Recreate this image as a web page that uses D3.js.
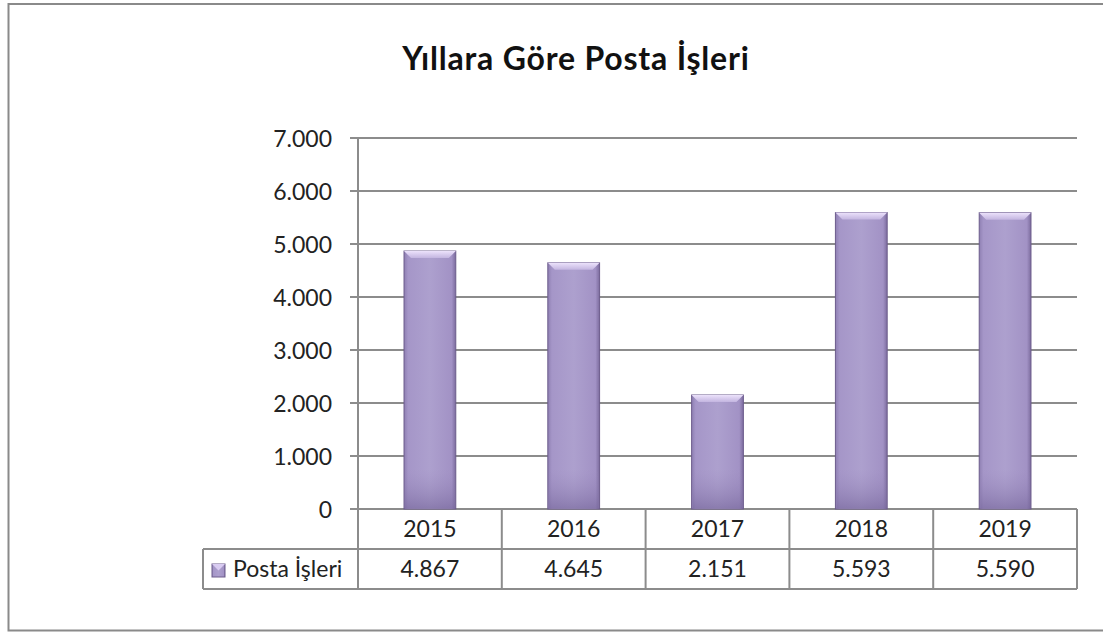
<!DOCTYPE html>
<html>
<head>
<meta charset="utf-8">
<script src="https://cdn.jsdelivr.net/npm/d3@7"></script>
<style>
  body { margin: 0; background: #fff; }
  svg { display: block; font-family: Lato, "Open Sans", sans-serif; }
</style>
</head>
<body>
<svg id="chart" width="1103" height="633"></svg>
<script>
// data
var years = ["2015", "2016", "2017", "2018", "2019"];
var postaIsleri = [4867, 4645, 2151, 5593, 5590];
var seriesName = "Posta İşleri";
var yTicks = [0, 1000, 2000, 3000, 4000, 5000, 6000, 7000];
var title = "Yıllara Göre Posta İşleri";

var trLocale = d3.formatLocale({ decimal: ",", thousands: ".", grouping: [3], currency: ["", "₺"] });
var fmt = trLocale.format(",d");

var svg = d3.select("#chart");
var plot = { left: 358, right: 1077, top: 138, bottom: 509 };
var rowH = 40;
var gridColor = "#8c8c8c";
var fs = 23;

// outer frame (right side runs off the picture)
svg.append("path")
  .attr("d", "M1110,4 H8.5 V630.5 H1110")
  .attr("fill", "none").attr("stroke", "#8a8a8a").attr("stroke-width", 2);

svg.append("text")
  .attr("x", 576).attr("y", 70)
  .attr("text-anchor", "middle")
  .attr("font-size", 32).attr("font-weight", "bold")
  .attr("letter-spacing", 0.8)
  .attr("fill", "#111")
  .text(title);

var x = d3.scaleBand().domain(years).range([plot.left, plot.right]).padding(0);
var y = d3.scaleLinear().domain([0, 7000]).range([plot.bottom, plot.top]);

// gridlines + ticks
svg.append("g").selectAll("line").data(yTicks).join("line")
  .attr("x1", plot.left - 8).attr("x2", plot.right)
  .attr("y1", function(d) { return y(d); }).attr("y2", function(d) { return y(d); })
  .attr("stroke", gridColor).attr("stroke-width", 2);

svg.append("g").selectAll("text").data(yTicks).join("text")
  .attr("x", plot.left - 26)
  .attr("y", function(d) { return y(d) + 8.5; })
  .attr("text-anchor", "end")
  .attr("font-size", fs).attr("fill", "#222")
  .text(function(d) { return fmt(d); });

// y axis line continues down through the table
svg.append("line")
  .attr("x1", plot.left).attr("x2", plot.left)
  .attr("y1", plot.top).attr("y2", plot.bottom + 2 * rowH)
  .attr("stroke", gridColor).attr("stroke-width", 2);

// bar gradients
var defs = svg.append("defs");
var g1 = defs.append("linearGradient").attr("id", "barGrad").attr("x1", 0).attr("x2", 1).attr("y1", 0).attr("y2", 0);
g1.append("stop").attr("offset", "0").attr("stop-color", "#8e7fb2");
g1.append("stop").attr("offset", "0.08").attr("stop-color", "#a596c8");
g1.append("stop").attr("offset", "0.5").attr("stop-color", "#ada0ce");
g1.append("stop").attr("offset", "0.92").attr("stop-color", "#a292c5");
g1.append("stop").attr("offset", "1").attr("stop-color", "#7c6c9e");
var g2 = defs.append("linearGradient").attr("id", "topGrad").attr("x1", 0).attr("x2", 0).attr("y1", 0).attr("y2", 1);
g2.append("stop").attr("offset", "0").attr("stop-color", "#ece2fb");
g2.append("stop").attr("offset", "1").attr("stop-color", "#c3b5e0");
var g3 = defs.append("linearGradient").attr("id", "botGrad").attr("x1", 0).attr("x2", 0).attr("y1", 0).attr("y2", 1);
g3.append("stop").attr("offset", "0").attr("stop-color", "#9a8abd").attr("stop-opacity", 0);
g3.append("stop").attr("offset", "1").attr("stop-color", "#75659a");

var barW = x.bandwidth() * 0.36;
var bars = svg.append("g").selectAll("g").data(postaIsleri).join("g");

bars.append("rect")
  .attr("x", function(d, i) { return x(years[i]) + (x.bandwidth() - barW) / 2; })
  .attr("y", function(d) { return y(d); })
  .attr("width", barW)
  .attr("height", function(d) { return y(0) - y(d); })
  .attr("fill", "url(#barGrad)")
  .attr("stroke", "#6c5c8c").attr("stroke-width", 1);

// top bevel
bars.append("path")
  .attr("d", function(d, i) {
    var x0 = x(years[i]) + (x.bandwidth() - barW) / 2, x1 = x0 + barW, t = y(d), b = 7;
    return "M" + x0 + "," + t + "H" + x1 + "L" + (x1 - b) + "," + (t + b) + "H" + (x0 + b) + "Z";
  })
  .attr("fill", "url(#topGrad)");

// soft shading near the base
bars.append("rect")
  .attr("x", function(d, i) { return x(years[i]) + (x.bandwidth() - barW) / 2 + 1; })
  .attr("y", y(0) - 40)
  .attr("width", barW - 2).attr("height", 39)
  .attr("fill", "url(#botGrad)").attr("opacity", 0.6);

// data table
var table = svg.append("g");
table.append("line")
  .attr("x1", plot.right).attr("x2", plot.right)
  .attr("y1", plot.bottom).attr("y2", plot.bottom + 2 * rowH)
  .attr("stroke", gridColor).attr("stroke-width", 2);
table.selectAll("line.col").data(years.slice(1)).join("line")
  .attr("class", "col")
  .attr("x1", function(d) { return x(d); }).attr("x2", function(d) { return x(d); })
  .attr("y1", plot.bottom).attr("y2", plot.bottom + 2 * rowH)
  .attr("stroke", gridColor).attr("stroke-width", 2);
table.append("line")
  .attr("x1", 203).attr("x2", plot.right)
  .attr("y1", plot.bottom + rowH).attr("y2", plot.bottom + rowH)
  .attr("stroke", gridColor).attr("stroke-width", 2);
table.append("line")
  .attr("x1", 203).attr("x2", plot.right)
  .attr("y1", plot.bottom + 2 * rowH).attr("y2", plot.bottom + 2 * rowH)
  .attr("stroke", gridColor).attr("stroke-width", 2);
table.append("line")
  .attr("x1", 203).attr("x2", 203)
  .attr("y1", plot.bottom + rowH).attr("y2", plot.bottom + 2 * rowH)
  .attr("stroke", gridColor).attr("stroke-width", 2);

table.selectAll("text.yr").data(years).join("text")
  .attr("class", "yr")
  .attr("x", function(d) { return x(d) + x.bandwidth() / 2; })
  .attr("y", plot.bottom + 28)
  .attr("text-anchor", "middle").attr("font-size", fs).attr("fill", "#222")
  .text(function(d) { return d; });

table.selectAll("text.val").data(postaIsleri).join("text")
  .attr("class", "val")
  .attr("x", function(d, i) { return x(years[i]) + x.bandwidth() / 2; })
  .attr("y", plot.bottom + rowH + 28)
  .attr("text-anchor", "middle").attr("font-size", fs).attr("fill", "#222")
  .text(function(d) { return fmt(d); });

// legend key
table.append("rect")
  .attr("x", 212).attr("y", plot.bottom + rowH + 15)
  .attr("width", 13).attr("height", 13)
  .attr("fill", "url(#barGrad)").attr("stroke", "#6c5c8c").attr("stroke-width", 1);
table.append("path")
  .attr("d", "M212," + (plot.bottom + rowH + 15) + "h13l-6.5,6.5z")
  .attr("fill", "#d9ccf2");
table.append("text")
  .attr("x", 233).attr("y", plot.bottom + rowH + 28)
  .attr("font-size", fs).attr("fill", "#222")
  .text(seriesName);
</script>
</body>
</html>
